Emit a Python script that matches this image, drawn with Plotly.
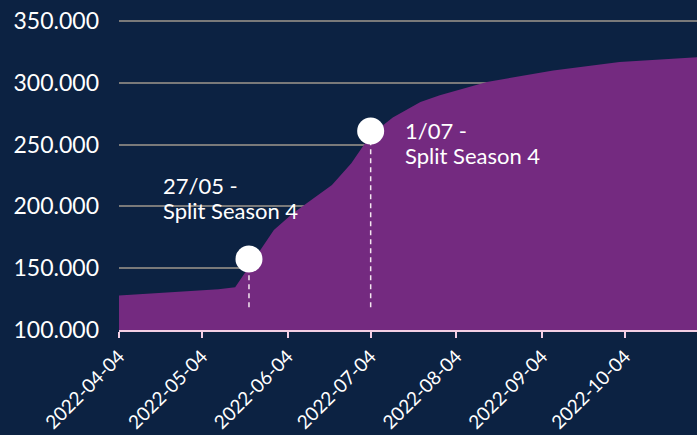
import plotly.graph_objects as go

# Data
dates = ["2022-04-04", "2022-05-10", "2022-05-16", "2022-05-30", "2022-06-06",
         "2022-06-20", "2022-06-27", "2022-07-04", "2022-07-12", "2022-07-22",
         "2022-07-29", "2022-08-15", "2022-09-08", "2022-10-02", "2022-10-31"]
values = [128000, 132900, 134500, 180900, 194700,
          217300, 235000, 257700, 272000, 284500,
          290000, 300600, 310000, 316800, 320800]

event_dates = ["2022-05-21", "2022-07-04"]
event_values = [157400, 261000]
stem_bottom = 118500

# annotation lines: (text, pixel x, pixel y of cap centre)
label_lines = ["27/05 -", "Split Season 4", "1/07 -", "Split Season 4"]
label_px_x = [161, 161, 403, 403]
label_px_y = [185, 210, 130, 155]

tick_dates = ["2022-04-04", "2022-05-04", "2022-06-04", "2022-07-04",
              "2022-08-04", "2022-09-04", "2022-10-04"]
y_ticks = [100000, 150000, 200000, 250000, 300000, 350000]

BG = "#0c2242"
PURPLE = "#742a80"
FONT = "Lato"

W, H = 697, 435
ML, MR, MT, MB = 119, 0, 18, 105
plot_w = W - ML - MR
plot_h = H - MT - MB
# 100k at y=330 px, 350k at y=21 px
y_top = 100000 + plot_h / 309 * 250000

fig = go.Figure()
fig.add_trace(go.Scatter(x=dates, y=values, mode="lines", fill="tozeroy",
                         fillcolor=PURPLE, line=dict(width=0, color=PURPLE),
                         hoverinfo="skip", showlegend=False))

for d, v in zip(event_dates, event_values):
    fig.add_trace(go.Scatter(x=[d, d], y=[stem_bottom, v], mode="lines",
                             line=dict(color="#f4e6f0", width=1.5, dash="5px,4px"),
                             showlegend=False, hoverinfo="skip"))
fig.add_trace(go.Scatter(x=event_dates, y=event_values, mode="markers",
                         marker=dict(size=27, color="white"),
                         showlegend=False, hoverinfo="skip"))

for t, px, py in zip(label_lines, label_px_x, label_px_y):
    fig.add_annotation(x=(px - ML) / plot_w, y=(H - MB - py) / plot_h,
                       xref="paper", yref="paper", text=t, showarrow=False,
                       xanchor="left", yanchor="middle", align="left",
                       font=dict(family=FONT, size=22, color="white"))

fig.update_layout(
    width=W, height=H,
    paper_bgcolor=BG, plot_bgcolor=BG,
    margin=dict(l=ML, r=MR, t=MT, b=MB),
    separators=",.",
    font=dict(family=FONT, color="white"),
    xaxis=dict(type="date", range=["2022-04-04", "2022-10-30"], automargin=False,
               tickvals=tick_dates, ticktext=tick_dates, tickangle=-45,
               showgrid=False, showline=True, linecolor="#f3cfe4", linewidth=2,
               ticks="outside", ticklen=6, tickcolor="#f3cfe4", tickwidth=2,
               tickfont=dict(family=FONT, size=19, color="white"),
               zeroline=False),
    yaxis=dict(range=[100000, y_top], tickvals=y_ticks, automargin=False,
               tickformat=",d", showgrid=True, gridcolor="#7a7a7a", gridwidth=2,
               zeroline=False, showline=False, ticks="",
               ticklabelstandoff=19,
               tickfont=dict(family=FONT, size=23, color="white")),
)

fig.write_html("out.html",
               config={"displayModeBar": False},
               post_script="document.body.style.margin='0px';"
                           "document.body.style.overflow='hidden';"
                           "document.body.style.background='" + BG + "';")
